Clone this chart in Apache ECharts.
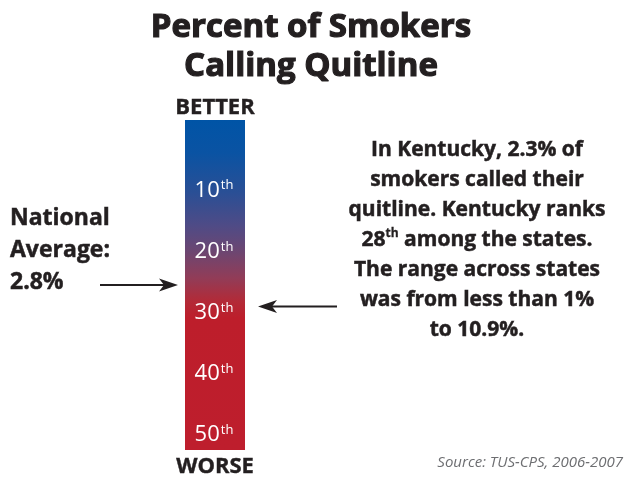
<!DOCTYPE html>
<html><head><meta charset="utf-8">
<script src="https://cdn.jsdelivr.net/npm/echarts@6/dist/echarts.min.js"></script>
<style>html,body{margin:0;padding:0;background:#fff}#c{width:626px;height:478px}</style>
</head><body><div id="c"></div>
<script>
// ---- data ----
const titleLines = ['Percent of Smokers', 'Calling Quitline'];
const rankTicks = [10, 20, 30, 40, 50];
const rankExtent = [-1.5, 52.5];          // ranks covered by the coloured scale
const scaleEnds = ['BETTER', 'WORSE'];
const nationalLines = ['National', 'Average:', '2.8%'];
const nationalRank = 25.5;                 // where the national-average arrow points
const kentuckyRank = 29;                   // where the Kentucky arrow points
const kentuckyLines = [
  'In Kentucky, 2.3% of',
  'smokers called their',
  'quitline. Kentucky ranks',
  '28{s|th} among the states.',
  'The range across states',
  'was from less than 1%',
  'to 10.9%.'
];
const sourceText = 'Source: TUS-CPS, 2006-2007';

// ---- styles ----
const FONT = '"Open Sans", "Noto Sans", sans-serif';
const INK = '#231f20';
const gradStops = [
  {offset: 0, color: '#0054a6'},
  {offset: 0.10, color: '#0a53a3'},
  {offset: 0.22, color: '#2a4f95'},
  {offset: 0.32, color: '#4f4b86'},
  {offset: 0.40, color: '#6d4671'},
  {offset: 0.48, color: '#923c57'},
  {offset: 0.55, color: '#b32a37'},
  {offset: 0.60, color: '#bd1e2b'},
  {offset: 1, color: '#be1e2d'}
];

const chart = echarts.init(document.getElementById('c'), null, {renderer: 'canvas'});

function arrowShape(tipX, tailX, y) {
  const dir = tipX > tailX ? 1 : -1;
  const headLen = 19, half = 6.5, notch = 5;
  return [
    {type: 'line', shape: {x1: tailX, y1: y, x2: tipX - dir * notch, y2: y},
     style: {stroke: INK, lineWidth: 2}},
    {type: 'polygon', shape: {points: [
      [tipX, y], [tipX - dir * headLen, y - half], [tipX - dir * (headLen - notch), y],
      [tipX - dir * headLen, y + half]]}, style: {fill: INK}}
  ];
}

const option = {
  backgroundColor: '#fff',
  animation: false,
  grid: {left: 185, width: 60, top: 120, height: 330},
  xAxis: {type: 'category', data: ['rank'], show: false},
  yAxis: {type: 'value', inverse: true, min: rankExtent[0], max: rankExtent[1], show: false},
  series: [
    {
      type: 'custom',
      data: [[0, rankExtent[0], rankExtent[1]]],
      renderItem: (params, api) => {
        const a = api.coord([api.value(0), api.value(1)]);
        const b = api.coord([api.value(0), api.value(2)]);
        const w = api.size([1, 0])[0];
        return {type: 'rect', shape: {x: a[0] - w / 2, y: a[1], width: w, height: b[1] - a[1]},
          style: {fill: new echarts.graphic.LinearGradient(0, 0, 0, 1, gradStops)}};
      }
    },
    {
      type: 'scatter',
      symbolSize: 0,
      itemStyle: {opacity: 1},
      data: rankTicks.map(r => [0, r]),
      label: {
        show: true, position: 'inside', offset: [-1, 0], color: '#fff', textBorderWidth: 0,
        formatter: p => '{n|' + p.value[1] + '}{s|th}',
        rich: {
          n: {fontFamily: FONT, fontSize: 22, color: '#fff', textBorderWidth: 0},
          s: {fontFamily: FONT, fontSize: 13, color: '#fff', textBorderWidth: 0, verticalAlign: 'top', padding: [0, 0, 0, 1]}
        }
      },
      z: 5
    },
    {
      type: 'custom',
      data: [[0, nationalRank, -1], [0, kentuckyRank, 1]],
      renderItem: (params, api) => {
        const p = api.coord([api.value(0), api.value(1)]);
        const w = api.size([1, 0])[0];
        const side = api.value(2);
        let children;
        if (side < 0) {
          const tip = p[0] - w / 2 - 7;
          children = arrowShape(tip, tip - 78, p[1]);
        } else {
          const tip = p[0] + w / 2 + 13;
          children = arrowShape(tip, tip + 79, p[1]);
        }
        return {type: 'group', children};
      }
    }
  ],
  graphic: [
    {type: 'text', x: 311, y: 8, style: {
      text: titleLines.join('\n'), fontFamily: FONT, fontWeight: 'bold', fontSize: 33,
      lineHeight: 39, fill: INK, stroke: INK, lineWidth: 1.2, align: 'center'}},
    {type: 'text', x: 215, y: 108, style: {text: scaleEnds[0], fontFamily: FONT, fontWeight: 'bold',
      fontSize: 22, fill: INK, stroke: INK, lineWidth: 0.4, align: 'center', verticalAlign: 'middle'}},
    {type: 'text', x: 215, y: 467, style: {text: scaleEnds[1], fontFamily: FONT, fontWeight: 'bold',
      fontSize: 22, fill: INK, stroke: INK, lineWidth: 0.4, align: 'center', verticalAlign: 'middle'}},
    {type: 'text', x: 10, y: 202, style: {text: nationalLines.join('\n'), fontFamily: FONT,
      fontWeight: 'bold', fontSize: 23, lineHeight: 32, fill: INK, stroke: INK, lineWidth: 0.5,
      align: 'left', verticalAlign: 'top'}},
    {type: 'text', x: 477, y: 135, style: {text: kentuckyLines.join('\n'), fontFamily: FONT,
      fontWeight: 'bold', fontSize: 21, lineHeight: 30, fill: INK, stroke: INK, lineWidth: 0.5,
      align: 'center', verticalAlign: 'top',
      rich: {s: {fontFamily: FONT, fontWeight: 'bold', fontSize: 12, fill: INK, stroke: INK, lineWidth: 0.3,
        verticalAlign: 'top', padding: [3, 0, 0, 0]}}}},
    {type: 'text', right: 3, top: 455, style: {text: sourceText, fontFamily: FONT, fontStyle: 'italic',
      fontSize: 15, fill: '#6d6e71'}}
  ]
};
chart.setOption(option);
</script>
</body></html>
